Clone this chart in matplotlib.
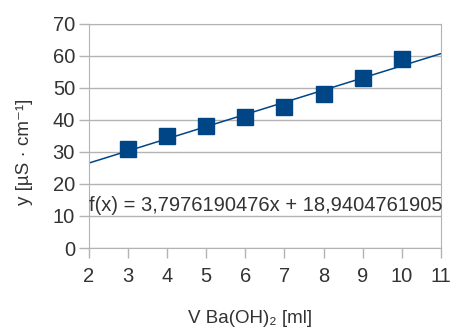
import numpy as np
import matplotlib
matplotlib.use('Agg')
import matplotlib.pyplot as plt

plt.rcParams['font.family'] = ['Liberation Sans', 'DejaVu Sans']

# Measured data
volume = [3, 4, 5, 6, 7, 8, 9, 10]
conductivity = [31, 35, 38, 41, 44, 48, 53, 59]
x_ticks = [2, 3, 4, 5, 6, 7, 8, 9, 10, 11]
y_ticks = [0, 10, 20, 30, 40, 50, 60, 70]

blue = '#004586'
grid_gray = '#b3b3b3'
text_col = '#333333'

fig = plt.figure(figsize=(4.56, 3.32), dpi=100)
ax = fig.add_axes([0.195, 0.253, 0.772, 0.675])

# Linear trend line over the whole x range
slope, intercept = np.polyfit(volume, conductivity, 1)
xs = np.array([x_ticks[0], x_ticks[-1]])
ax.plot(xs, slope * xs + intercept, color=blue, lw=1.1, zorder=2)

ax.plot(volume, conductivity, 's', color=blue, markersize=11.5, zorder=3)

ax.set_xlim(x_ticks[0], x_ticks[-1])
ax.set_ylim(y_ticks[0], y_ticks[-1])
ax.set_xticks(x_ticks)
ax.set_yticks(y_ticks)
ax.yaxis.grid(True, color=grid_gray, lw=1)
ax.set_axisbelow(True)
for s in ax.spines.values():
    s.set_color(grid_gray)
ax.tick_params(colors=grid_gray, labelcolor=text_col, labelsize=14.5,
               length=7, direction='out', width=1)
ax.tick_params(axis='x', pad=7)
ax.tick_params(axis='y', pad=3)

eq = 'f(x) = {:.10f}x + {:.10f}'.format(slope, intercept).replace('.', ',')
ax.text(2.0, 13.4, eq, fontsize=14.5, va='center', ha='left', color=text_col)

ax.set_xlabel('V Ba(OH)₂ [ml]', fontsize=13.5, color=text_col)
ax.set_ylabel('y [µS · cm⁻¹]', fontsize=13.5, color=text_col)
ax.xaxis.set_label_coords(0.457, -0.275)
ax.yaxis.set_label_coords(-0.16, 0.43)

fig.savefig('out.png', dpi=100)
